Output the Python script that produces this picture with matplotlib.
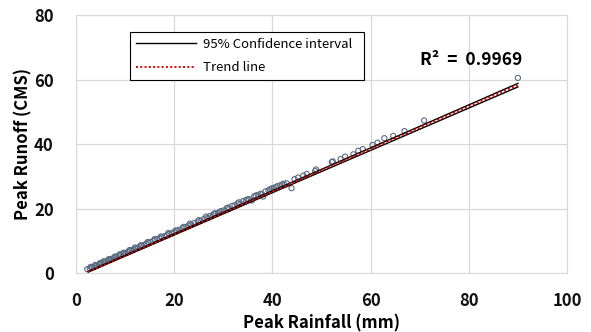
import matplotlib
matplotlib.use("Agg")
import matplotlib.pyplot as plt

plt.rcParams['font.family'] = ['Noto Sans CJK KR', 'DejaVu Sans']

# observed peaks
rainfall = [
    2.3, 2.8, 3.2, 3.6, 4.0, 4.3, 4.7, 5.0, 5.4, 5.8, 6.1, 6.5, 6.9, 7.2, 7.6,
    8.0, 8.3, 8.7, 9.1, 9.5, 9.8, 10.2, 10.6, 11.0, 11.4, 11.8, 12.2, 12.6,
    13.0, 13.5, 13.9, 14.3, 14.8, 15.2, 15.7, 16.1, 16.6, 17.0, 17.5, 18.0,
    18.5, 19.0, 19.5, 20.0, 20.6, 21.1, 21.7, 22.3, 22.9, 23.5, 24.1, 24.8,
    25.4, 26.1, 26.8, 27.3, 27.9, 28.4, 29.0, 29.6, 30.1, 30.7, 31.2, 31.8,
    32.3, 32.9, 33.5, 34.0, 34.6, 35.2, 35.8, 36.3, 37.0, 37.6, 38.1, 38.6,
    39.2, 39.8, 40.3, 41.0, 41.6, 42.3, 42.9, 43.9, 44.5, 45.2, 46.3, 47.0,
    48.7, 48.9, 52.1, 52.3, 53.9, 54.8, 56.5, 57.5, 58.4, 60.4, 61.4, 62.8,
    64.6, 66.9, 70.9, 90.0,
    3.0, 3.9, 4.9, 5.6, 6.7, 7.9, 8.9, 9.7, 10.9, 12.0, 13.2, 14.6, 16.0,
    17.3, 18.8, 20.3, 21.9, 23.2, 25.0, 26.5, 28.1, 29.3, 31.0, 33.2, 34.9,
    36.6, 37.9, 39.5, 40.7, 42.0,
]
runoff = [
    1.2, 1.4, 1.7, 1.8, 2.2, 2.3, 2.7, 2.8, 3.1, 3.4, 3.6, 3.8, 4.2, 4.3, 4.6,
    4.9, 5.0, 5.4, 5.5, 5.9, 6.1, 6.2, 6.6, 6.8, 7.1, 7.3, 7.6, 7.8,
    8.2, 8.4, 8.7, 9.1, 9.3, 9.6, 9.9, 10.3, 10.5, 10.8, 11.1, 11.4,
    11.7, 12.1, 12.3, 12.7, 13.1, 13.4, 13.9, 14.2, 14.7, 15.0, 15.5, 15.9,
    16.2, 16.8, 17.1, 17.7, 17.9, 18.5, 18.6, 19.2, 19.4, 20.1, 19.9, 20.8,
    21.0, 21.6, 21.5, 22.3, 22.6, 22.9, 22.5, 23.8, 24.2, 24.6, 23.7, 25.3,
    25.6, 26.2, 26.4, 26.9, 27.2, 27.7, 27.8, 26.3, 29.1, 29.6, 30.2, 30.7,
    31.6, 32.1, 34.4, 34.6, 35.3, 36.1, 36.8, 37.9, 38.4, 39.7, 40.4, 41.8,
    42.5, 44.0, 47.3, 60.5,
    1.9, 2.5, 3.1, 3.6, 4.3, 5.1, 5.8, 6.3, 7.1, 7.9, 8.6, 9.6, 10.5,
    11.3, 12.4, 13.2, 14.3, 15.3, 16.4, 17.5, 18.4, 19.0, 20.3, 21.9, 22.8,
    24.0, 24.4, 25.9, 26.6, 27.4,
]

# fitted lines (end points)
line_x = [2.5, 90.0]
trend_y = [0.4, 58.3]
ci_lower = [0.3, 57.7]
ci_upper = [0.5, 58.8]

r2_text = "R\u00b2  =  0.9969"

fig = plt.figure(figsize=(5.91, 3.32), dpi=100)
ax = fig.add_axes([0.1286, 0.1777, 0.8308, 0.7771])

ax.scatter(rainfall, runoff, s=14, facecolors="none", edgecolors="#5b6b82",
           linewidths=0.8, zorder=3)
ax.plot(line_x, ci_lower, color="black", lw=1.0, zorder=4,
        label="95% Confidence interval")
ax.plot(line_x, ci_upper, color="black", lw=1.0, zorder=4)
ax.plot(line_x, trend_y, color="#e00000", lw=1.4, ls=(0, (1, 1.2)), zorder=5,
        label="Trend line")

ax.set_xlim(0, 100)
ax.set_ylim(0, 80)
ax.set_xticks([0, 20, 40, 60, 80, 100])
ax.set_yticks([0, 20, 40, 60, 80])
ax.grid(True, color="#d9d9d9", lw=0.9)
ax.set_axisbelow(True)
for spine in ax.spines.values():
    spine.set_color("#d9d9d9")
ax.tick_params(axis="x", length=0, pad=14, labelsize=12, colors="#111111")
ax.tick_params(axis="y", length=0, pad=16, labelsize=12, colors="#111111")
for lab in ax.get_xticklabels() + ax.get_yticklabels():
    lab.set_fontweight("bold")

ax.set_xlabel("Peak Rainfall (mm)", fontsize=12, fontweight="bold", labelpad=3)
ax.set_ylabel("Peak Runoff (CMS)", fontsize=12, fontweight="bold", labelpad=1)

ax.text(70.0, 66, r2_text, fontsize=12.5, fontweight="bold", va="center")

leg = ax.legend(loc="upper left", bbox_to_anchor=(0.096, 0.74, 0.503, 0.221),
                mode="expand", fontsize=9.5, handlelength=4.6, labelspacing=0.8,
                frameon=True, fancybox=False, edgecolor="black", framealpha=1,
                borderpad=0.45, handletextpad=0.5)
leg.get_frame().set_linewidth(0.8)

fig.savefig("out.png", dpi=100)
